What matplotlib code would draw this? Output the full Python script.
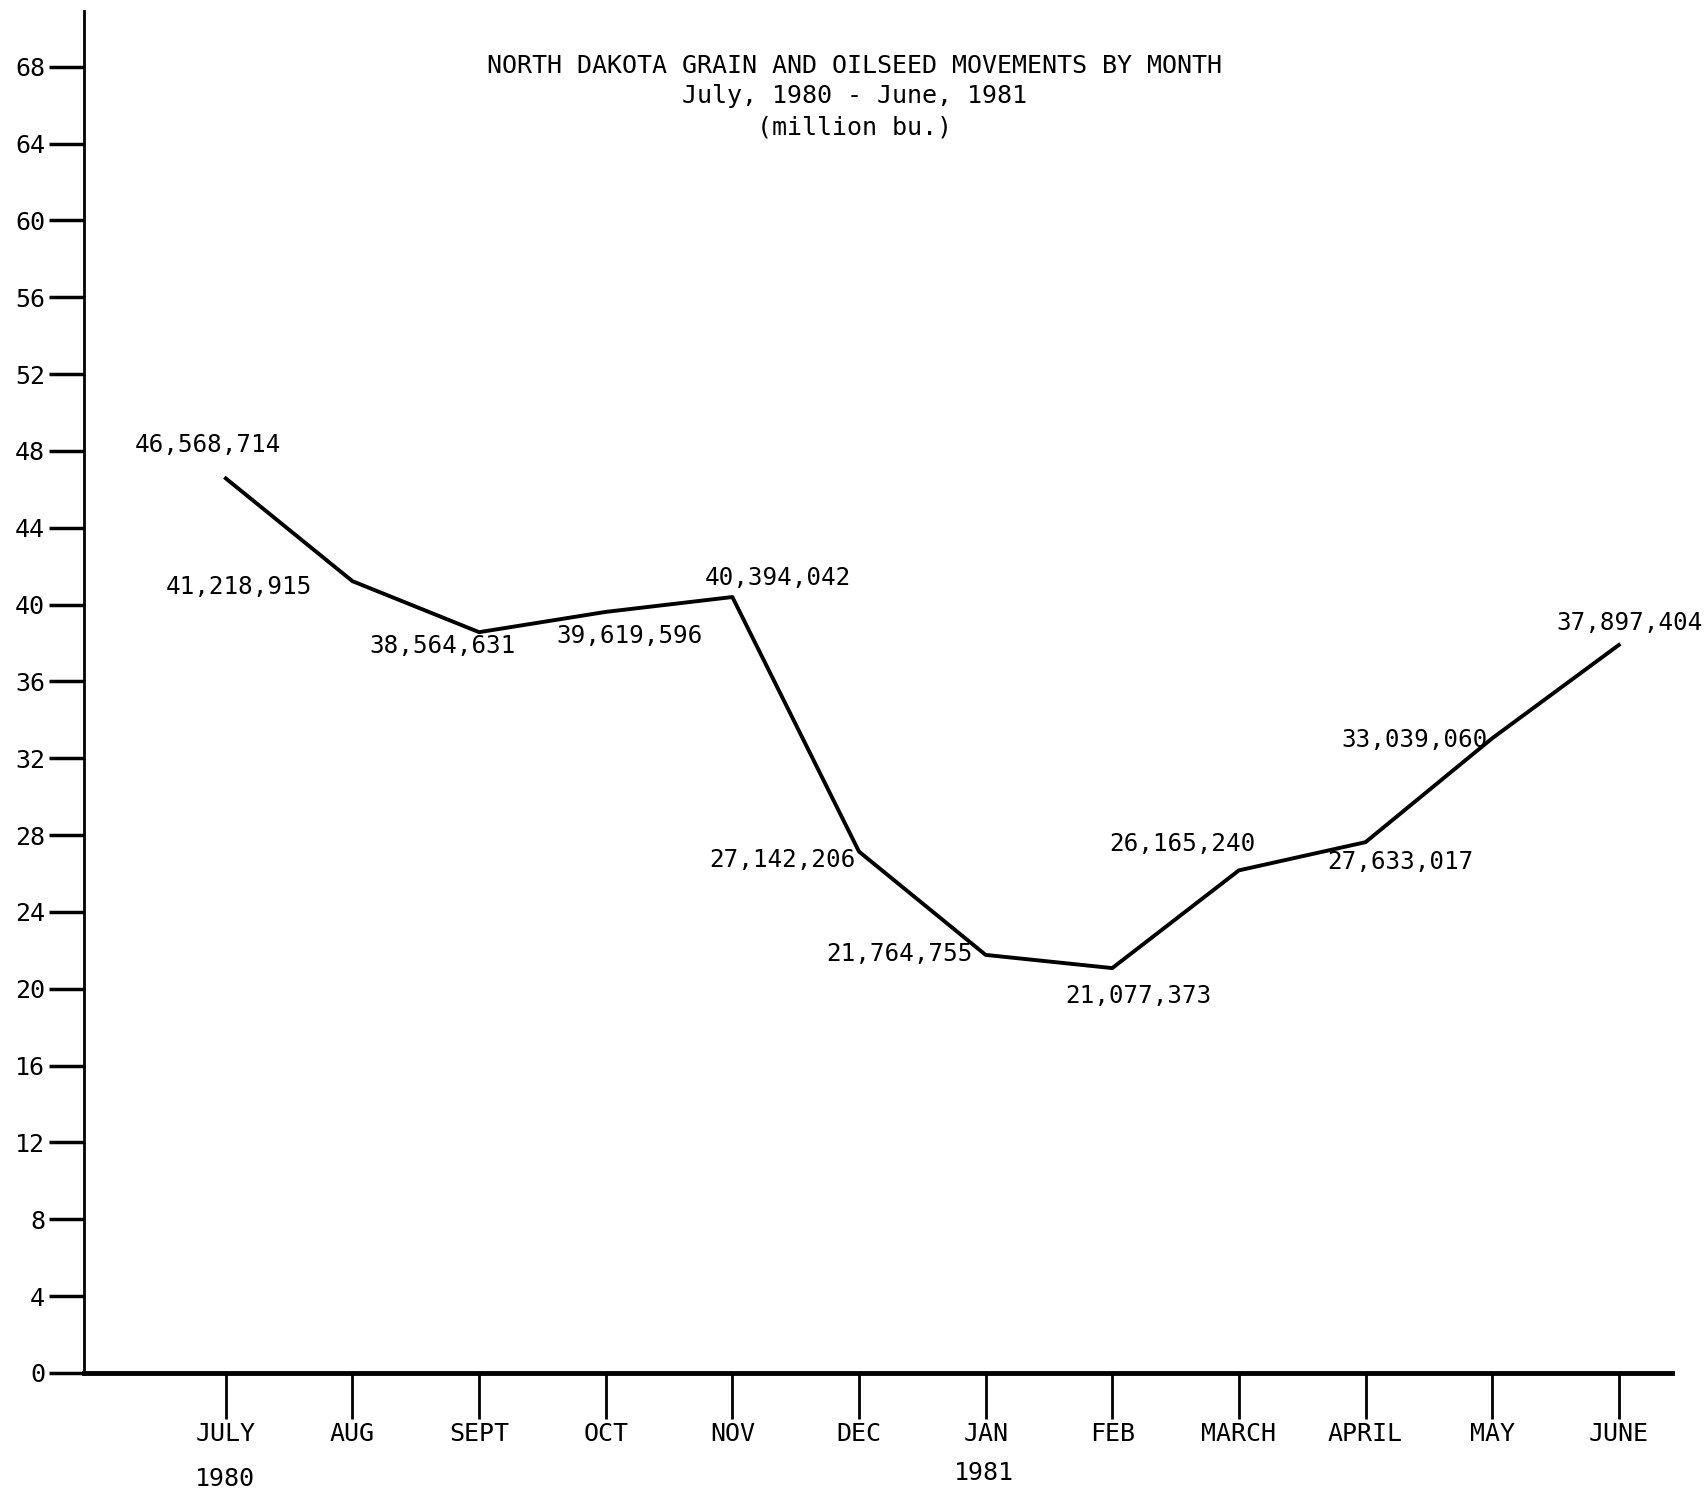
import matplotlib
matplotlib.use("Agg")
import matplotlib.pyplot as plt

# data (bushels)
months = ["JULY", "AUG", "SEPT", "OCT", "NOV", "DEC",
          "JAN", "FEB", "MARCH", "APRIL", "MAY", "JUNE"]
bushels = [46568714, 41218915, 38564631, 39619596, 40394042, 27142206,
           21764755, 21077373, 26165240, 27633017, 33039060, 37897404]
y_ticks = list(range(0, 69, 4))

# where each value label sits relative to its point (points, x right / y up)
label_offsets = [(-13, 24), (-82, -4), (-26, -10), (17, -17), (33, 14), (-55, -6),
                 (-62, 1), (19, -20), (-41, 19), (25, -14), (-56, -1), (8, 16)]

plt.rcParams['font.family'] = ['DejaVu Sans Mono']

fig = plt.figure(figsize=(17.06, 14.92), dpi=100)
ax = fig.add_axes([84 / 1706, 119 / 1492, (1672 - 84) / 1706, (1481 - 119) / 1492])

x = list(range(len(months)))
millions = [v / 1e6 for v in bushels]
ax.plot(x, millions, color="black", linewidth=2.8, solid_joinstyle="round")

for xi, yi, v, off in zip(x, millions, bushels, label_offsets):
    ax.annotate(f"{v:,}", (xi, yi), xytext=off, textcoords="offset points",
                ha="center", va="center", fontsize=17.5)

ax.set_xlim(-1.12, 11.42)
ax.set_ylim(0, 70.9)

ax.set_xticks(x)
ax.set_xticklabels(months, fontsize=18)
ax.set_yticks(y_ticks)
ax.set_yticklabels([str(t) for t in y_ticks], fontsize=18)
ax.tick_params(axis="x", direction="out", length=33, width=2, pad=2)
ax.tick_params(axis="y", direction="out", length=25, width=2.5, pad=3)

for side in ["top", "right"]:
    ax.spines[side].set_visible(False)
ax.spines["left"].set_linewidth(2)
ax.spines["bottom"].set_linewidth(3.5)

# year markers under the month labels
ax.annotate("1980", (0, 0), xytext=(-1, -76), textcoords="offset points",
            ha="center", va="center", fontsize=18)
ax.annotate("1981", (6, 0), xytext=(-1, -72), textcoords="offset points",
            ha="center", va="center", fontsize=18)

# typed title block
fig.text(0.501, 1 - 66 / 1492, "NORTH DAKOTA GRAIN AND OILSEED MOVEMENTS BY MONTH",
         ha="center", va="center", fontsize=18)
fig.text(0.501, 1 - 96 / 1492, "July, 1980 - June, 1981",
         ha="center", va="center", fontsize=18)
fig.text(0.501, 1 - 127 / 1492, "(million bu.)",
         ha="center", va="center", fontsize=18)

fig.savefig("out.png", dpi=100)
